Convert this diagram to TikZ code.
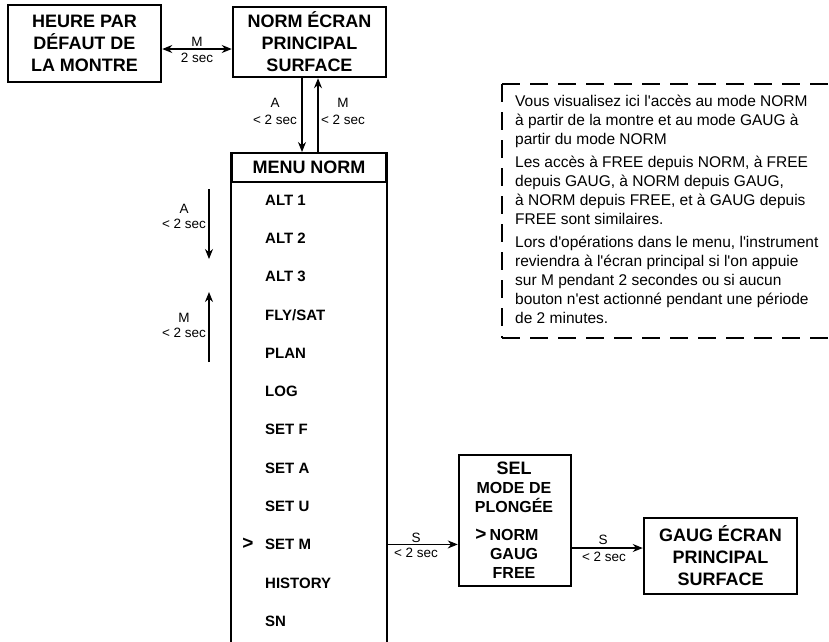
\documentclass[tikz,border=0pt]{standalone}
\usepackage{fontspec}
\setmainfont{Liberation Sans}
\newfontfamily\notefont{Liberation Sans}
\usetikzlibrary{arrows.meta}
\begin{document}
\begin{tikzpicture}[x=1pt,y=-1pt,
  box/.style={draw, line width=2.5pt, inner sep=0pt, align=center, font=\fontsize{18}{22}\selectfont\bfseries},
  item/.style={anchor=west, inner sep=0pt, font=\fontsize{15}{18}\selectfont\bfseries, text height=10.7pt, text depth=0pt},
  seltxt/.style={inner sep=0pt, font=\fontsize{16}{19}\selectfont\bfseries, text height=11.4pt, text depth=0pt},
  cursor/.style={inner sep=0pt, font=\fontsize{19}{20}\selectfont\bfseries},
  lbl/.style={inner sep=0pt, font=\fontsize{13.5}{15}\selectfont},
  arr/.style={line width=1.1pt, -{Stealth[length=10pt,width=8pt]}},
  darr/.style={line width=1.1pt, {Stealth[length=10pt,width=8pt]}-{Stealth[length=10pt,width=8pt]}},
  notetxt/.style={anchor=base west, inner sep=0pt, font=\notefont\fontsize{15.5}{19}\selectfont},
  dashline/.style={line width=2pt, dash pattern=on 18pt off 10pt},
]
\useasboundingbox (0,0) rectangle (829,641);

% top boxes
\node[box, minimum width=153pt, minimum height=77pt] (heure) at (84.5,43.5) {HEURE PAR\\DÉFAUT DE\\LA MONTRE};
\node[box, minimum width=153pt, minimum height=70pt] (norm) at (309.5,42) {NORM ÉCRAN\\PRINCIPAL\\SURFACE};

\coordinate (hy) at (0,49);
\draw[darr] (heure.east |- hy) -- (norm.west |- hy);
\node[lbl] (lm) at (197,42) {M};
\node[lbl] (l2s) at (197,58) {2 sec};

% menu
\node[draw, line width=2pt, minimum width=154pt, minimum height=29pt, inner sep=0pt,
      font=\fontsize{18}{22}\selectfont\bfseries] (menu) at (309,167.5) {MENU NORM};
\coordinate (bot) at (0,645);
\draw[line width=2pt] (menu.north west) -- (menu.north west |- bot);
\draw[line width=2pt] (menu.north east) -- (menu.north east |- bot);

\coordinate (xd) at (302,0);
\coordinate (xu) at (318,0);
\draw[arr] (norm.south -| xd) -- (menu.north -| xd);
\draw[arr] (menu.north -| xu) -- (norm.south -| xu);
\node[lbl] (la1) at (275,103) {A};
\node[lbl] (la2) at (275,120) {< 2 sec};
\node[lbl] (lm1) at (343,103) {M};
\node[lbl] (lm2) at (343,120) {< 2 sec};

\foreach \t [count=\i from 0] in {ALT 1,ALT 2,ALT 3,FLY/SAT,PLAN,LOG,SET F,SET A,SET U,SET M,HISTORY,SN}
  \node[item] (it\i) at (265,{200+38.27*\i}) {\t};
\node[cursor] (cur1) at (248,544) {>};

% left arrows
\coordinate (a1) at (209,189);
\coordinate (a2) at (209,259);
\coordinate (m1) at (209,362);
\coordinate (m2) at (209,292);
\draw[arr] (a1) -- (a2);
\draw[arr] (m1) -- (m2);
\node[lbl] (lla) at (184,209) {A};
\node[lbl] (lla2) at (184,224) {< 2 sec};
\node[lbl] (llm) at (184,318) {M};
\node[lbl] (llm2) at (184,333) {< 2 sec};

% SEL box
\node[draw, line width=2.5pt, minimum width=112pt, minimum height=131pt, inner sep=0pt] (sel) at (515,520.5) {};
\node[seltxt, font=\fontsize{18}{20}\selectfont\bfseries, text height=12.9pt] (s1) at (514,468) {SEL};
\node[seltxt] (s2) at (514,488) {MODE DE};
\node[seltxt] (s3) at (514,507) {PLONGÉE};
\node[seltxt] (s4) at (514,535) {NORM};
\node[seltxt] (s5) at (514,554) {GAUG};
\node[seltxt] (s6) at (514,573) {FREE};
\node[cursor] (cur2) at (481,535) {>};

\draw[arr] (menu.east |- it9) -- (sel.west |- it9);
\node[lbl] (ls1) at (416,538) {S};
\node[lbl] (ls2) at (416,553) {< 2 sec};

% GAUG box
\node[box, minimum width=153pt, minimum height=76pt] (gaug) at (720.5,556) {GAUG ÉCRAN\\PRINCIPAL\\SURFACE};
\coordinate (s2y) at (0,548);
\draw[arr] (sel.east |- s2y) -- (gaug.west |- s2y);
\node[lbl] (ls3) at (603,540) {S};
\node[lbl] (ls4) at (604,557) {< 2 sec};

% note
\coordinate (ntl) at (502,84);
\coordinate (ntr) at (835,84);
\coordinate (nbl) at (502,338);
\coordinate (nbr) at (835,338);
\draw[dashline] (ntl) -- (ntr);
\draw[dashline] (ntl) -- (nbl);
\draw[dashline] (nbl) -- (nbr);
\node[notetxt] (n1) at (515,106) {Vous visualisez ici l'accès au mode NORM};
\node[notetxt] (n2) at (515,125) {à partir de la montre et au mode GAUG à};
\node[notetxt] (n3) at (515,144) {partir du mode NORM};
\node[notetxt] (n4) at (515,167) {Les accès à FREE depuis NORM, à FREE};
\node[notetxt] (n5) at (515,186) {depuis GAUG, à NORM depuis GAUG,};
\node[notetxt] (n6) at (515,205) {à NORM depuis FREE, et à GAUG depuis};
\node[notetxt] (n7) at (515,224) {FREE sont similaires.};
\node[notetxt] (n8) at (515,247) {Lors d'opérations dans le menu, l'instrument};
\node[notetxt] (n9) at (515,266) {reviendra à l'écran principal si l'on appuie};
\node[notetxt] (n10) at (515,285) {sur M pendant 2 secondes ou si aucun};
\node[notetxt] (n11) at (515,304) {bouton n'est actionné pendant une période};
\node[notetxt] (n12) at (515,323) {de 2 minutes.};
\end{tikzpicture}
\end{document}
